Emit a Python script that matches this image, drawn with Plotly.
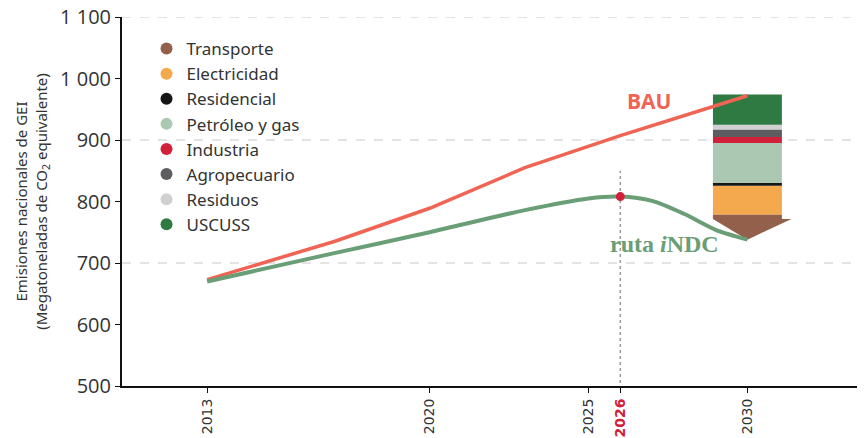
import plotly.graph_objects as go

# BAU and iNDC pathways (Mt CO2e)
bau_years = [2013, 2017, 2020, 2023, 2026, 2030]
bau_values = [673, 735, 789, 855, 907, 972]

indc_years = [2013, 2017, 2020, 2023, 2025, 2026, 2027, 2028, 2029, 2030]
indc_values = [670, 716, 750, 786, 805, 808, 801, 780, 754, 738]

peak_year = 2026
peak_value = 808

# reduction by sector in 2030, bottom to top
sectors = ["Transporte", "Electricidad", "Residencial", "Petróleo y gas",
           "Industria", "Agropecuario", "Residuos", "USCUSS"]
reductions = [40.6, 47.2, 4.4, 65.0, 9.8, 11.9, 8.1, 48.8]
colors = ["#93604c", "#f4a94f", "#161616", "#abc8b2",
          "#d0203a", "#5d5d61", "#d0d0d0", "#2e7a42"]

x_ticks = [2013, 2020, 2025, 2026, 2030]
x_ticktext = ["2013", "2020", "2025", "<b><span style='color:#d0203a'>2026</span></b>", "2030"]
y_ticks = [500, 600, 700, 800, 900, 1000, 1100]
y_ticktext = ["500", "600", "700", "800", "900", "1 000", "1 100"]
grid_values = [700, 900, 1100]

bar_year = 2030
bar_w = 2.17
base = indc_values[-1]

fig = go.Figure()

# Transporte drawn as a downward arrow
top = base + reductions[0]
shoulder = base + reductions[0] * 0.83
ax = [bar_year - bar_w / 2, bar_year + bar_w / 2, bar_year + bar_w / 2,
      bar_year + bar_w / 2 + 0.3, bar_year, bar_year - bar_w / 2, bar_year - bar_w / 2]
ay = [top, top, shoulder, shoulder, base, shoulder, top]
fig.add_trace(go.Scatter(x=ax, y=ay, fill="toself", fillcolor=colors[0], mode="lines",
                         line=dict(width=0, color=colors[0]), showlegend=False, hoverinfo="skip"))

cum = top
for name, val, col in zip(sectors[1:], reductions[1:], colors[1:]):
    fig.add_trace(go.Bar(x=[bar_year], y=[val], base=[cum], width=bar_w, marker_color=col,
                         marker_line_width=0, showlegend=False, name=name))
    cum += val

# legend entries (circles)
for name, col in zip(sectors, colors):
    fig.add_trace(go.Scatter(x=[None], y=[None], mode="markers", name=name,
                             marker=dict(size=12, color=col)))

fig.add_trace(go.Scatter(x=bau_years, y=bau_values, mode="lines", showlegend=False,
                         line=dict(color="#ef6454", width=3.5)))
fig.add_trace(go.Scatter(x=indc_years, y=indc_values, mode="lines", showlegend=False,
                         line=dict(color="#6a9e76", width=4, shape="spline", smoothing=0.8)))
fig.add_trace(go.Scatter(x=[peak_year], y=[peak_value], mode="markers", showlegend=False,
                         marker=dict(color="#d0203a", size=9)))

for g in grid_values:
    fig.add_shape(type="line", xref="paper", x0=0, x1=1, y0=g, y1=g,
                  line=dict(color="#c8c8c8", width=1, dash="dash"), layer="below")
fig.add_shape(type="line", x0=peak_year, x1=peak_year, y0=495, y1=850,
              line=dict(color="#9a9a9a", width=1.5, dash="dot"), layer="below")

fig.add_annotation(x=2026.9, y=963, text="<b>BAU</b>", showarrow=False,
                   font=dict(family="Open Sans", size=21, color="#ef6454"))
fig.add_annotation(x=2027.4, y=731, text="<b>ruta <i>i</i>NDC</b>", showarrow=False,
                   font=dict(family="Liberation Serif", size=24, color="#6a9e76"))

# page body adds an 8px margin, so the figure is sized to fit inside it
fig.update_layout(
    width=857, height=430,
    margin=dict(l=114, r=0, t=9, b=52),
    paper_bgcolor="white", plot_bgcolor="white",
    barmode="overlay",
    font=dict(family="Noto Sans", color="#333333"),
    legend=dict(x=0.033, y=0.962, xanchor="left", yanchor="top", bgcolor="rgba(0,0,0,0)",
                font=dict(size=17, color="#333333"), itemsizing="trace"),
    xaxis=dict(range=[2010.32, 2033.7], tickvals=x_ticks, ticktext=x_ticktext, tickangle=-90,
               showline=True, linecolor="#111111", linewidth=2, ticks="outside", ticklen=5,
               tickcolor="#111111", showgrid=False, zeroline=False, automargin=False,
               tickfont=dict(family="DejaVu Sans", size=14, color="#333333")),
    yaxis=dict(range=[500, 1100], tickvals=y_ticks, ticktext=y_ticktext,
               showline=True, linecolor="#111111", linewidth=2, ticks="outside", ticklen=5,
               tickcolor="#111111", showgrid=False, zeroline=False, ticklabeloverflow="allow",
               automargin=False,
               tickfont=dict(family="Open Sans", size=20, color="#333333"),
               title=dict(text="Emisiones nacionales de GEI<br>(Megatoneladas de CO<sub>2</sub> equivalente)",
                          font=dict(size=15, color="#333333"), standoff=9)),
)

fig.write_html("out.html")
